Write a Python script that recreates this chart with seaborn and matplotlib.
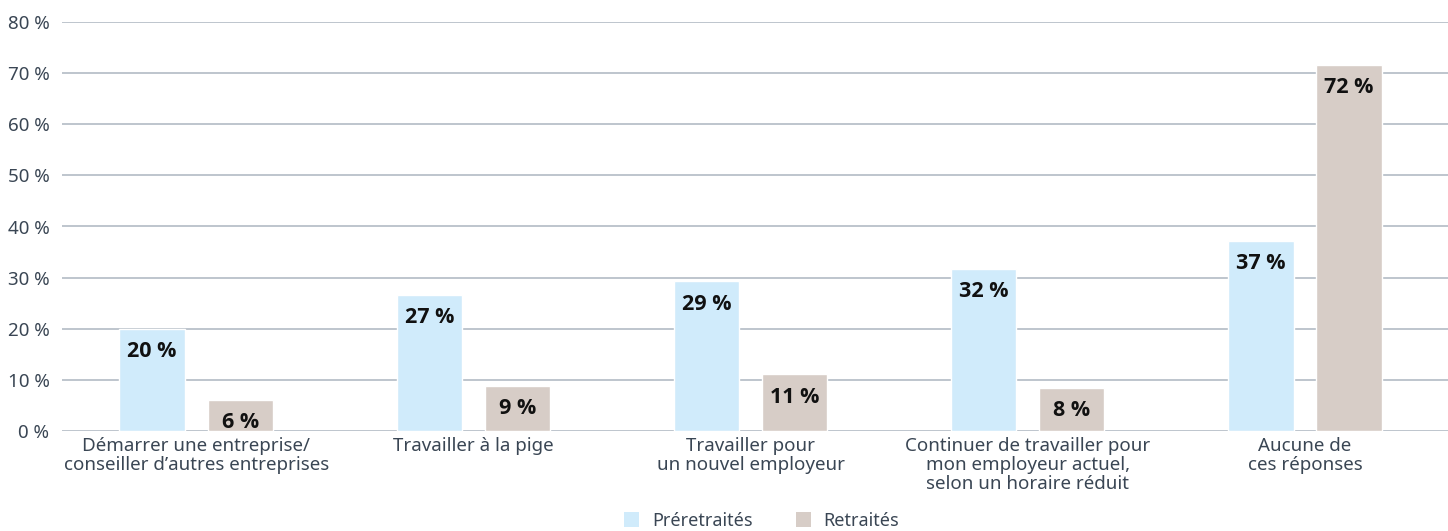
import matplotlib
matplotlib.use("Agg")
import matplotlib.pyplot as plt
import seaborn as sns
import pandas as pd
from matplotlib.patches import Patch

categories = [
    "Démarrer une entreprise/\nconseiller d’autres entreprises",
    "Travailler à la pige",
    "Travailler pour\nun nouvel employeur",
    "Continuer de travailler pour\nmon employeur actuel,\nselon un horaire réduit",
    "Aucune de\nces réponses",
]
series_names = ["Préretraités", "Retraités"]
preretraites = [20.0, 26.6, 29.3, 31.7, 37.2]
retraites = [6.1, 8.8, 11.1, 8.4, 71.6]
labels_pre = ["20 %", "27 %", "29 %", "32 %", "37 %"]
labels_ret = ["6 %", "9 %", "11 %", "8 %", "72 %"]
yticks = [0, 10, 20, 30, 40, 50, 60, 70, 80]
ytick_labels = ["0 %", "10 %", "20 %", "30 %", "40 %", "50 %", "60 %", "70 %", "80 %"]

colors = {"Préretraités": "#d0ebfb", "Retraités": "#d7cdc7"}
text_color = "#3a4654"
grid_color = "#b9c0c9"

df = pd.DataFrame({
    "cat": categories * 2,
    "serie": [series_names[0]] * 5 + [series_names[1]] * 5,
    "val": preretraites + retraites,
    "lab": labels_pre + labels_ret,
})

sns.set_theme(style="white")
plt.rcParams["font.family"] = ["Noto Sans", "DejaVu Sans"]

fig = plt.figure(figsize=(14.48, 5.31), dpi=100)
ax = fig.add_axes([62 / 1448, 1 - 431 / 531, 1 - 62 / 1448, (431 - 22) / 531])

sns.barplot(data=df, x="cat", y="val", hue="serie", palette=colors,
            width=0.636, gap=0.26, ax=ax, legend=False, saturation=1,
            order=categories, hue_order=series_names, errorbar=None)

ax.set_ylim(0, 80)
ax.set_xlim(-0.484, 4.516)
ax.set_yticks(yticks)
ax.set_yticklabels(ytick_labels)
ax.yaxis.grid(True, color=grid_color, linewidth=1.3)
ax.set_axisbelow(True)
for s in ax.spines.values():
    s.set_visible(False)
ax.set_xlabel("")
ax.set_ylabel("")
ax.tick_params(axis="y", length=0, pad=9, labelsize=13.5, labelcolor=text_color)
ax.tick_params(axis="x", length=0, pad=4, labelsize=13.5, labelcolor=text_color)
for t in ax.get_xticklabels():
    t.set_linespacing(1.08)

# bar labels
for container, labs in zip(ax.containers, [labels_pre, labels_ret]):
    for bar, lab in zip(container, labs):
        ax.annotate(lab, xy=(bar.get_x() + bar.get_width() / 2, bar.get_height()),
                    xytext=(0, -16.5), textcoords="offset points",
                    ha="center", va="center", fontsize=15.5, fontweight="bold",
                    family=["Open Sans", "Lato", "DejaVu Sans"],
                    color="#111111")

handles = [Patch(facecolor=colors[n], edgecolor="none", label=n) for n in series_names]
fig.legend(handles=handles, loc="center", bbox_to_anchor=(0.526, 0.019), ncol=2,
           frameon=False, handlelength=0.85, handleheight=0.85, handletextpad=0.7,
           columnspacing=2.4, fontsize=13, labelcolor=text_color, borderpad=0)

fig.savefig("out.png", dpi=100)
